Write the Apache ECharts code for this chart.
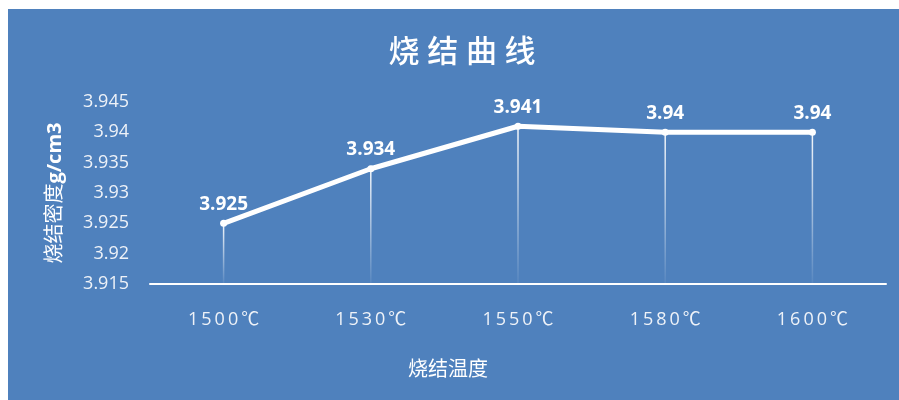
<!DOCTYPE html>
<html><head><meta charset="utf-8">
<script src="https://cdn.jsdelivr.net/npm/echarts@6/dist/echarts.min.js"></script>
<style>html,body{margin:0;padding:0;background:#fff}#c{width:899px;height:400px}</style>
</head><body><div id="c"></div>
<script>
const categories = ['1500℃','1530℃','1550℃','1580℃','1600℃'];
const density = [3.925, 3.934, 3.941, 3.94, 3.94];
const yMin = 3.915, yMax = 3.945, yStep = 0.005;
const titleText = '烧结曲线';
const xName = '烧结温度';
const yNameCn = '烧结密度';
const yNameUnit = 'g/cm3';

const chart = echarts.init(document.getElementById('c'), null, {renderer:'canvas'});
const font = '"Open Sans","Noto Sans CJK SC",sans-serif';
const spaced = (s, sp) => s.split('').join(sp);
chart.setOption({
  backgroundColor: '#fff',
  graphic: [{type:'rect', left:8, top:9, shape:{width:891, height:391}, style:{fill:'#4f81bd'}, z:-10, silent:true}],
  title: {text: spaced(titleText, '\u2005'), left: 457, textAlign:'center', top: 33,
    textStyle:{color:'#fff', fontSize:31, fontWeight:500, fontFamily:font}},
  grid: {left:150, right:13, top:102, bottom:116},
  xAxis: {type:'category', data: categories, boundaryGap:true,
    name: xName, nameLocation:'middle', nameGap:76,
    nameTextStyle:{color:'#fff', fontSize:20, fontFamily:font, padding:[0,140,0,0]},
    axisLine:{lineStyle:{color:'#fff', width:2}}, axisTick:{show:false},
    axisLabel:{color:'#eef2f8', fontSize:18, margin:27, fontFamily:font,
      formatter: v => spaced(v, '\u2009')}},
  yAxis: {type:'value', min:yMin, max:yMax, interval:yStep,
    name: '{a|' + yNameCn + '}{b|' + yNameUnit + '}', nameLocation:'middle', nameGap:85, nameRotate:90,
    nameTextStyle:{color:'#fff', fontSize:20, fontFamily:font,
      rich:{a:{color:'#fff', fontSize:20, fontWeight:'normal', fontFamily:font},
            b:{color:'#fff', fontSize:20, fontWeight:'bold', fontFamily:font}}},
    axisLine:{show:false}, axisTick:{show:false}, splitLine:{show:false},
    axisLabel:{color:'#eef2f8', fontSize:18, margin:21, fontFamily:font,
      formatter: v => String(parseFloat(v.toFixed(3)))}},
  series: [
    {type:'bar', data: density, barWidth:1.5, silent:true, z:1,
      itemStyle:{color:{type:'linear', x:0,y:0,x2:0,y2:1, colorStops:[
        {offset:0,color:'rgba(255,255,255,0.95)'},{offset:1,color:'rgba(255,255,255,0.05)'}]}}},
    {type:'line', data: density, z:3, symbol:'circle', symbolSize:7,
      lineStyle:{color:'#fff', width:5}, itemStyle:{color:'#fff'},
      label:{show:true, position:'top', distance:6, color:'#fff', fontSize:19, fontWeight:'bold', fontFamily:font,
        formatter: p => String(p.value)}}
  ]
});
</script></body></html>
